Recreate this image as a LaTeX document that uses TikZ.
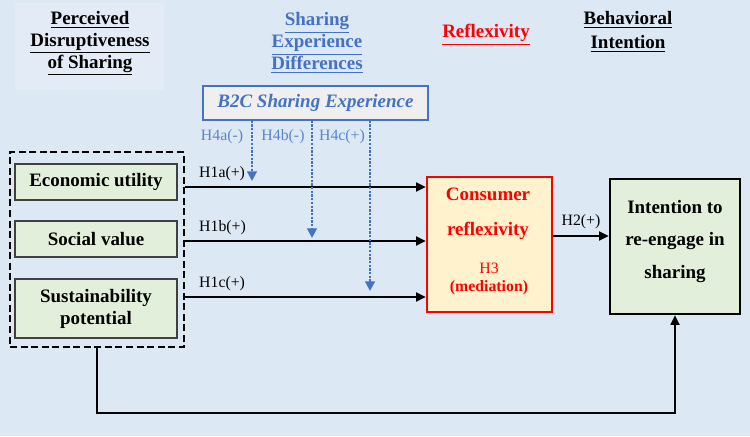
\documentclass[tikz,border=0pt]{standalone}
\usepackage{fontspec}
\setmainfont{Liberation Serif}
\usetikzlibrary{arrows.meta,positioning,calc}

\definecolor{bgblue}{HTML}{DDE8F5}
\definecolor{hdrfill}{HTML}{E2EBF6}
\definecolor{expblue}{HTML}{4472C4}
\definecolor{lblblue}{HTML}{5B85CF}
\definecolor{boxgreen}{HTML}{E2EFDA}
\definecolor{reflfill}{HTML}{FFF2CC}
\definecolor{b2cfill}{HTML}{EFEFEF}
\definecolor{reflred}{HTML}{FF0000}

\newcommand{\hul}[1]{\underline{#1}}

\tikzset{
  hdr/.style={font=\fontsize{10.8}{12.5}\selectfont\bfseries, align=center},
  factor/.style={draw=black!75, fill=boxgreen, line width=0.8pt, minimum width=3.24cm,
    font=\fontsize{10.8}{12.5}\selectfont\bfseries, align=center},
  hlabel/.style={font=\fontsize{9}{10}\selectfont},
  harrow/.style={line width=1.3pt, -{Triangle[length=5.5pt,width=5pt]}},
  modarrow/.style={expblue, line width=1.3pt, dash pattern=on 1.3pt off 0.8pt,
    -{Triangle[length=5.5pt,width=5.5pt]}}
}

\begin{document}
\begin{tikzpicture}[x=0.02cm,y=-0.02cm]
        % Canvas
        \fill[bgblue] (0,0) rectangle (750,436);
        \useasboundingbox (0,0) rectangle (750,436);
        \fill[hdrfill] (15,3) rectangle (164,90);

        % Column headers
        \node[hdr] (hdrdis) at (90,43.5) {\hul{Perceived}\\\hul{Disruptiveness}\\\hul{of Sharing}};
        \node[hdr, text=expblue] (hdrexp) at (317,43) {\hul{Sharing}\\\hul{Experience}\\\hul{Differences}};
        \node[hdr, text=reflred] (hdrrefl) at (486,35) {\hul{Reflexivity}};
        \node[hdr, font=\fontsize{10.8}{13.5}\selectfont\bfseries] (hdrint) at (628,32) {\hul{Behavioral}\\\hul{Intention}};

        % Moderator
        \node[draw=expblue, fill=b2cfill, line width=0.8pt, minimum width=4.5cm, minimum height=0.68cm,
          text=expblue, font=\fontsize{10.8}{12.5}\selectfont\bfseries\itshape] (b2c) at (315.5,103) {B2C Sharing Experience};

        % Disruptiveness factors
        \node[draw, line width=1.4pt, dash pattern=on 4pt off 2pt, minimum width=3.48cm, minimum height=3.9cm] (grp) at (97,249.5) {};
        \node[factor, minimum height=0.72cm] (econ) at (96,182) {Economic utility};
        \node[factor, minimum height=0.72cm] (social) at (96,239) {Social value};
        \node[factor, minimum height=1.18cm] (sust) at (96,308.5) {Sustainability\\potential};

        % Mediator and outcome
        \node[draw=reflred, fill=reflfill, line width=1.4pt, minimum width=2.5cm, minimum height=2.7cm] (refl) at (489.5,244.5) {};
        \node[font=\fontsize{10.8}{19.8}\selectfont\bfseries, text=reflred, align=center] (refltxt) at (488,213.5) {Consumer\\reflexivity};
        \node[font=\fontsize{9}{10.5}\selectfont, text=reflred, align=center] (h3) at (489,279) {H3\\\textbf{(mediation)}};
        \node[draw, fill=boxgreen, line width=1.4pt, minimum width=2.6cm, minimum height=2.7cm] (intent) at (675,246.5) {};
        \node[font=\fontsize{10.8}{18.7}\selectfont\bfseries, align=center] (intenttxt) at (675,241.5) {Intention to\\re-engage in\\sharing};

        % Direct paths
        \foreach \y/\lbl in {187/H1a(+), 241/H1b(+), 297/H1c(+)}{
            \draw[harrow] (grp.east |- 0,\y) -- (refl.west |- 0,\y);
            \node[hlabel, anchor=south west] at (193,\y) {\lbl};
        }
        \draw[harrow] (refl.east |- 0,236) -- (intent.west |- 0,236)
            node[hlabel, midway, above] {H2(+)};
        \draw[harrow] (grp.south) -- ++(0,65) -| (intent.south);

        % Moderation paths
        \foreach \x/\yend/\lbl/\lx in {252/181/H4a(-)/222, 312/238/H4b(-)/283, 370/291/H4c(+)/342}{
            \coordinate (m\x) at (\x,\yend);
            \draw[modarrow] (b2c.south -| m\x) -- (m\x);
            \node[hlabel, text=lblblue] at (\lx,137) {\lbl};
        }
\end{tikzpicture}
\end{document}
